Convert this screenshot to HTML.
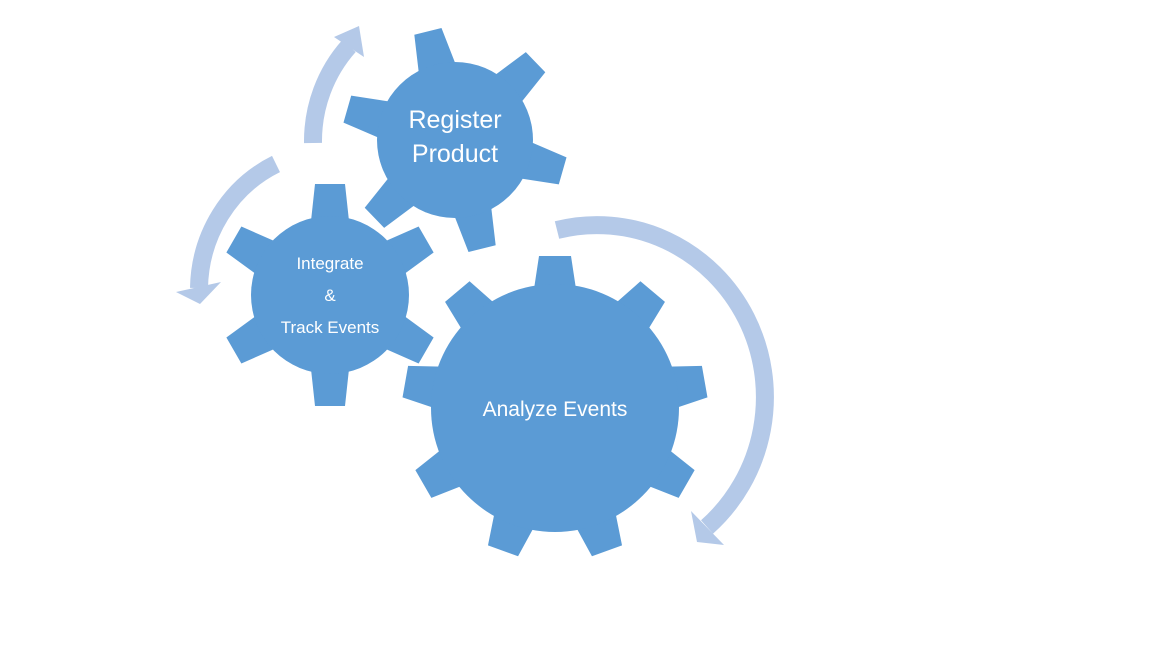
<!DOCTYPE html>
<html><head><meta charset="utf-8"><style>
html,body{margin:0;padding:0;background:#fff;width:1152px;height:648px;overflow:hidden}
svg{display:block}
text{font-family:"Liberation Sans",sans-serif;fill:#fff}
</style></head><body>
<svg id="s" width="1152" height="648" viewBox="0 0 1152 648" xmlns="http://www.w3.org/2000/svg">
<g fill="none" stroke="#b4c9e8" stroke-width="18">
<path d="M557,230 A168 172 0 0 1 707,527"/>
<path d="M276,164 A135 140 0 0 0 199,288"/>
<path d="M313,143 A135 140 0 0 1 349,46"/>
</g>
<g fill="#b4c9e8">
<polygon points="691,511 697,542 724,545"/>
<polygon points="176,292 200,304 221,282"/>
<polygon points="334,37 359,26 364,57"/>
</g>
<g id="gears" fill="#5b9bd5"></g>
<text x="455" y="128" font-size="25" text-anchor="middle">Register</text>
<text x="455" y="162" font-size="25" text-anchor="middle">Product</text>
<text x="330" y="269" font-size="17" text-anchor="middle">Integrate</text>
<text x="330" y="301" font-size="17" text-anchor="middle">&amp;</text>
<text x="330" y="333" font-size="17" text-anchor="middle">Track Events</text>
<text x="555" y="416" font-size="21" text-anchor="middle">Analyze Events</text>
</svg>
<script>
var NS="http://www.w3.org/2000/svg";
function gear(cx,cy,r,R,n,start,baseHalf,tipHalf){
  var d="",step=2*Math.PI/n;
  for(var i=0;i<n;i++){
    var a=start*Math.PI/180+i*step;
    var ux=Math.cos(a),uy=Math.sin(a),vx=-uy,vy=ux;
    var b0=[cx+ux*(r-5)-vx*baseHalf,cy+uy*(r-5)-vy*baseHalf];
    var t0=[cx+ux*R-vx*tipHalf,cy+uy*R-vy*tipHalf];
    var t1=[cx+ux*R+vx*tipHalf,cy+uy*R+vy*tipHalf];
    var b1=[cx+ux*(r-5)+vx*baseHalf,cy+uy*(r-5)+vy*baseHalf];
    d+=(i==0?"M":"L")+b0+"L"+t0+"L"+t1+"L"+b1;
    var na=a+step;
    var nx=Math.cos(na),ny=Math.sin(na),nvx=-ny,nvy=nx;
    var nb=[cx+nx*(r-5)-nvx*baseHalf,cy+ny*(r-5)-nvy*baseHalf];
    d+="A"+r+" "+r+" 0 0 1 "+nb;
  }
  var p=document.createElementNS(NS,"path");p.setAttribute("d",d+"Z");
  document.getElementById("gears").appendChild(p);
  var c=document.createElementNS(NS,"circle");c.setAttribute("cx",cx);c.setAttribute("cy",cy);c.setAttribute("r",r);
  document.getElementById("gears").appendChild(c);
}
gear(555,408,124,152,9,-90,21,16);
gear(330,295,79,111,6,-90,19,15);
gear(455,140,78,112,6,-104,19,14);
</script>
</body></html>
